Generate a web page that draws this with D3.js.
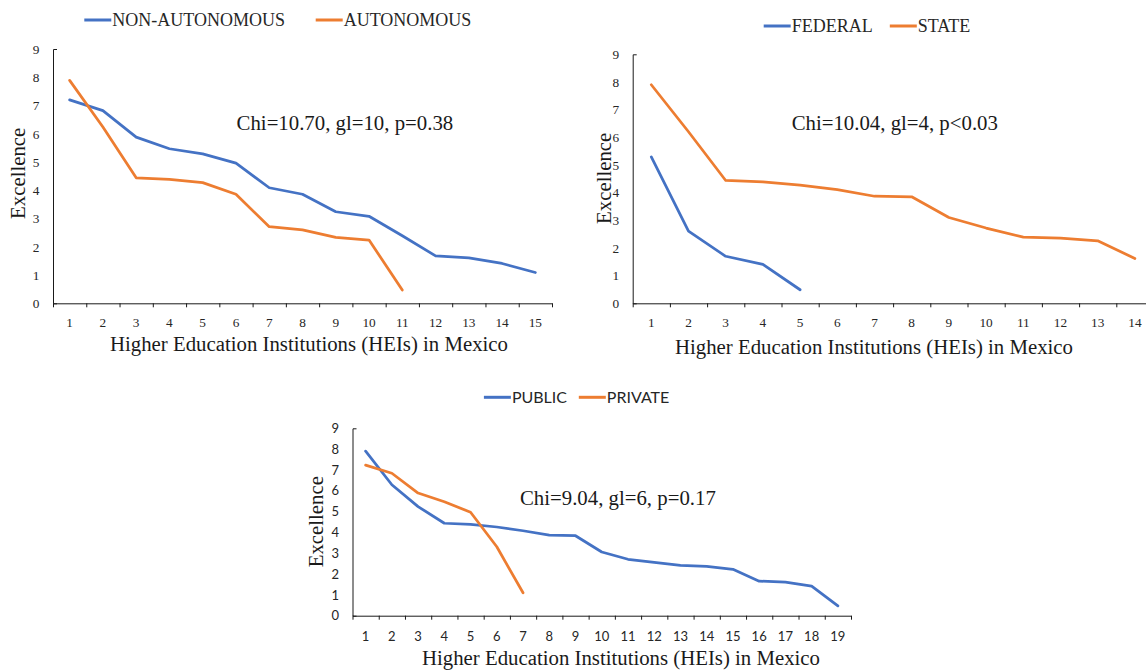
<!DOCTYPE html>
<html lang="en">
	<head>
		<meta charset="utf-8">
		<title>Excellence of HEIs in Mexico</title>
		<script type="text/javascript" src="https://cdn.jsdelivr.net/npm/d3@7/dist/d3.min.js"></script>
		<style type="text/css">
			body { margin: 0; background: #fff; }
			svg { display: block; }
			.serif { font-family: "Liberation Serif", "Times New Roman", serif; }
			.sans { font-family: Lato, "Liberation Sans", sans-serif; }
		</style>
	</head>
	<body>
		<script type="text/javascript">

			//Values
			var nonAutonomous = [7.2, 6.82, 5.88, 5.47, 5.29, 4.96, 4.09, 3.86, 3.24, 3.08, 2.39, 1.68, 1.61, 1.41, 1.09];
			var autonomous = [7.89, 6.24, 4.44, 4.39, 4.27, 3.86, 2.71, 2.6, 2.33, 2.24, 0.47];
			var federal = [5.29, 2.61, 1.7, 1.41, 0.49];
			var state = [7.9, 6.2, 4.44, 4.39, 4.27, 4.11, 3.87, 3.85, 3.1, 2.72, 2.39, 2.36, 2.26, 1.62];
			var publicHEI = [7.9, 6.29, 5.24, 4.44, 4.39, 4.26, 4.08, 3.87, 3.84, 3.06, 2.71, 2.56, 2.42, 2.37, 2.23, 1.66, 1.61, 1.42, 0.47];
			var privateHEI = [7.23, 6.84, 5.89, 5.47, 4.97, 3.31, 1.1];

			var yTicks = [0, 1, 2, 3, 4, 5, 6, 7, 8, 9];
			var chiLabels = ["Chi=10.70, gl=10, p=0.38", "Chi=10.04, gl=4, p<0.03", "Chi=9.04, gl=6, p=0.17"];
			var xTitle = "Higher Education Institutions (HEIs) in Mexico";
			var yTitle = "Excellence";

			var blue = "#4472C4";
			var orange = "#ED7D31";

			//Width and height
			var w = 1146;
			var h = 670;

			var svg = d3.select("body")
						.append("svg")
						.attr("width", w)
						.attr("height", h);

			//Layout of the three panels
			var panels = [
				{
					n: 15, x0: 53, x1: 552, yBottom: 303.3, yTop: 49,
					series: [["NON-AUTONOMOUS", nonAutonomous, blue], ["AUTONOMOUS", autonomous, orange]],
					legendX: [84.3, 315.7], legendY: 20, legendFont: "serif", legendSize: 18,
					tickFont: "serif", tickSize: 13.3, xPad: 13.8,
					chi: chiLabels[0], chiX: 236.6, chiY: 130,
					titleX: 309, titleY: 350.5, yTitleX: 25, yTitleY: 173.3
				},
				{
					n: 14, x0: 632.7, x1: 632.7 + 14 * 37.2, yBottom: 303.3, yTop: 54.3,
					series: [["FEDERAL", federal, blue], ["STATE", state, orange]],
					legendX: [763.7, 889.8], legendY: 26, legendFont: "serif", legendSize: 18,
					tickFont: "serif", tickSize: 13.3, xPad: 13.8,
					chi: chiLabels[1], chiX: 791.7, chiY: 130,
					titleX: 874, titleY: 354, yTitleX: 611, yTitleY: 178.3
				},
				{
					n: 19, x0: 352.5, x1: 851, yBottom: 615.7, yTop: 428.3,
					series: [["PUBLIC", publicHEI, blue], ["PRIVATE", privateHEI, orange]],
					legendX: [483.9, 578.8], legendY: 397.3, legendFont: "sans", legendSize: 16,
					tickFont: "sans", tickSize: 13, xPad: 15.6,
					chi: chiLabels[2], chiX: 520, chiY: 505,
					titleX: 621, titleY: 665, yTitleX: 323, yTitleY: 521.7
				}
			];

			panels.forEach(function(p) {

				var g = svg.append("g");

				var cats = d3.range(1, p.n + 1);

				//Scales
				var xBand = d3.scaleBand()
							  .domain(cats)
							  .range([p.x0, p.x1])
							  .padding(0);

				var xEdge = d3.scaleLinear()
							  .domain([0, p.n])
							  .range([p.x0, p.x1]);

				var yScale = d3.scaleLinear()
							   .domain([0, 9])
							   .range([p.yBottom, p.yTop]);

				//X axis line with boundary ticks
				var xEdgeAxis = d3.axisBottom(xEdge)
								  .tickValues(d3.range(p.n + 1))
								  .tickSize(4)
								  .tickSizeOuter(0)
								  .tickFormat("");

				g.append("g")
					.attr("transform", "translate(0," + p.yBottom + ")")
					.call(xEdgeAxis);

				//X labels
				var xLabelAxis = d3.axisBottom(xBand)
								   .tickSize(0)
								   .tickPadding(p.xPad);

				var xl = g.append("g")
					.attr("transform", "translate(0," + p.yBottom + ")")
					.call(xLabelAxis);
				xl.select(".domain").remove();
				xl.selectAll("text")
					.attr("class", p.tickFont)
					.attr("font-size", p.tickSize)
					.attr("fill", "#262626");

				//Y axis
				var yAxis = d3.axisLeft(yScale)
							  .tickValues(yTicks)
							  .tickSize(0)
							  .tickSizeOuter(-4)
							  .tickPadding(13.5)
							  .tickFormat(d3.format("d"));

				var ya = g.append("g")
					.attr("transform", "translate(" + p.x0 + ",0)")
					.call(yAxis);
				ya.selectAll("text")
					.attr("class", p.tickFont)
					.attr("font-size", p.tickSize)
					.attr("fill", "#262626");

				g.selectAll(".domain, .tick line")
					.attr("stroke", "#1a1a1a")
					.attr("stroke-width", 1);

				//Lines
				var line = d3.line()
							 .x(function(d, i) { return xBand(i + 1) + xBand.bandwidth() / 2; })
							 .y(function(d) { return yScale(d); });

				p.series.forEach(function(s) {
					g.append("path")
						.datum(s[1])
						.attr("d", line)
						.attr("fill", "none")
						.attr("stroke", s[2])
						.attr("stroke-width", 2.75)
						.attr("stroke-linejoin", "round")
						.attr("stroke-linecap", "round");
				});

				//Legend
				p.series.forEach(function(s, i) {
					var lx = p.legendX[i];
					g.append("line")
						.attr("x1", lx)
						.attr("x2", lx + 27)
						.attr("y1", p.legendY)
						.attr("y2", p.legendY)
						.attr("stroke", s[2])
						.attr("stroke-width", 3);
					g.append("text")
						.attr("class", p.legendFont)
						.attr("x", lx + 28)
						.attr("y", p.legendY)
						.attr("dy", "0.35em")
						.attr("font-size", p.legendSize)
						.attr("fill", "#262626")
						.text(s[0]);
				});

				//Chi label
				g.append("text")
					.attr("class", "serif")
					.attr("x", p.chiX)
					.attr("y", p.chiY)
					.attr("font-size", 20.8)
					.attr("fill", "#1a1a1a")
					.text(p.chi);

				//Axis titles
				g.append("text")
					.attr("class", "serif")
					.attr("x", p.titleX)
					.attr("y", p.titleY)
					.attr("text-anchor", "middle")
					.attr("font-size", 20.8)
					.attr("fill", "#1a1a1a")
					.text(xTitle);

				g.append("text")
					.attr("class", "serif")
					.attr("transform", "translate(" + p.yTitleX + "," + p.yTitleY + ") rotate(-90)")
					.attr("text-anchor", "middle")
					.attr("font-size", 20.8)
					.attr("fill", "#1a1a1a")
					.text(yTitle);
			});

		</script>
	</body>
</html>
